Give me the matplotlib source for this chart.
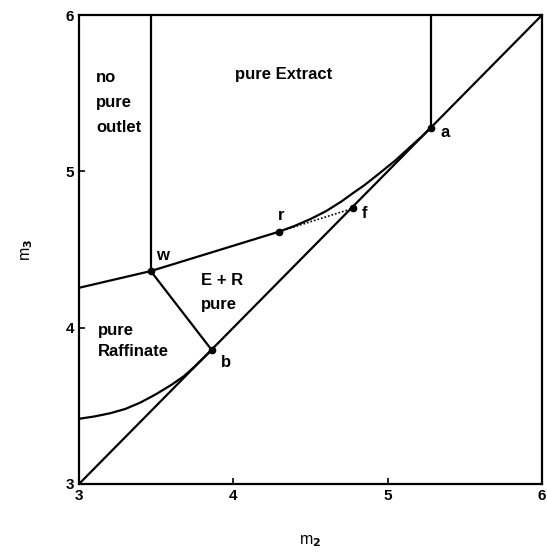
import matplotlib
matplotlib.use("Agg")
import matplotlib.pyplot as plt

plt.rcParams['font.family'] = ['Liberation Sans', 'DejaVu Sans']
plt.rcParams['font.weight'] = 'bold'
plt.rcParams['mathtext.default'] = 'bf'

# key points (m2, m3)
pt_names = ["w", "r", "f", "a", "b"]
pt_m2 = [3.465, 4.296, 4.774, 5.28, 3.86]
pt_m3 = [4.362, 4.614, 4.763, 5.28, 3.857]

# upper boundary: from left axis through w and r up to a
upper_m2 = [3.0, 3.465, 4.296, 4.4, 4.5, 4.6, 4.7, 4.774, 4.85, 4.95, 5.05, 5.15, 5.22, 5.28]
upper_m3 = [4.255, 4.362, 4.614, 4.652, 4.695, 4.745, 4.807, 4.86, 4.912, 4.99, 5.07, 5.16, 5.222, 5.28]

# lower boundary: from left axis up to b
lower_m2 = [3.0, 3.1, 3.2, 3.3, 3.4, 3.5, 3.6, 3.68, 3.75, 3.86]
lower_m3 = [3.417, 3.432, 3.452, 3.48, 3.522, 3.575, 3.635, 3.69, 3.752, 3.857]

fig = plt.figure(figsize=(5.47, 5.52), dpi=100)
ax = fig.add_axes([0.1444, 0.1232, 0.8465, 0.8496])

lw = 1.6
ax.plot([3, 6], [3, 6], color="black", lw=lw)
ax.plot(upper_m2, upper_m3, color="black", lw=lw)
ax.plot(lower_m2, lower_m3, color="black", lw=lw)
# vertical boundaries
ax.plot([pt_m2[0], pt_m2[0]], [pt_m3[0], 6], color="black", lw=lw)
ax.plot([pt_m2[3], pt_m2[3]], [pt_m3[3], 6], color="black", lw=lw)
# w - b
ax.plot([pt_m2[0], pt_m2[4]], [pt_m3[0], pt_m3[4]], color="black", lw=lw)
# r - f dotted
ax.plot([pt_m2[1], pt_m2[2]], [pt_m3[1], pt_m3[2]], color="black", lw=1.2, ls=(0, (1, 1.2)))

ax.plot(pt_m2, pt_m3, "o", color="black", ms=4.5, zorder=5)

fs = 12
ax.text(3.11, 5.60, "no", fontsize=fs, va="center")
ax.text(3.11, 5.44, "pure", fontsize=fs, va="center")
ax.text(3.11, 5.28, "outlet", fontsize=fs, va="center")
ax.text(4.01, 5.62, "pure Extract", fontsize=fs, va="center")
ax.text(3.79, 4.30, "E + R", fontsize=fs, va="center")
ax.text(3.79, 4.145, "pure", fontsize=fs, va="center")
ax.text(3.12, 3.985, "pure", fontsize=fs, va="center")
ax.text(3.12, 3.845, "Raffinate", fontsize=fs, va="center")
ax.text(3.54, 4.46, "w", fontsize=fs, va="center", ha="center")
ax.text(4.31, 4.72, "r", fontsize=fs, va="center", ha="center")
ax.text(4.85, 4.73, "f", fontsize=fs, va="center", ha="center")
ax.text(5.37, 5.25, "a", fontsize=fs, va="center", ha="center")
ax.text(3.95, 3.78, "b", fontsize=fs, va="center", ha="center")

ax.set_xlim(3, 6)
ax.set_ylim(3, 6)
ax.set_xticks([3, 4, 5, 6])
ax.set_yticks([3, 4, 5, 6])
ax.tick_params(direction="in", length=4, width=1.2, labelsize=11)
for s in ax.spines.values():
    s.set_linewidth(1.6)

ax.set_xlabel("m$_2$", fontsize=11.5, labelpad=22)
ax.set_ylabel("m$_3$", fontsize=11.5, labelpad=22)

fig.savefig("out.png", dpi=100)
